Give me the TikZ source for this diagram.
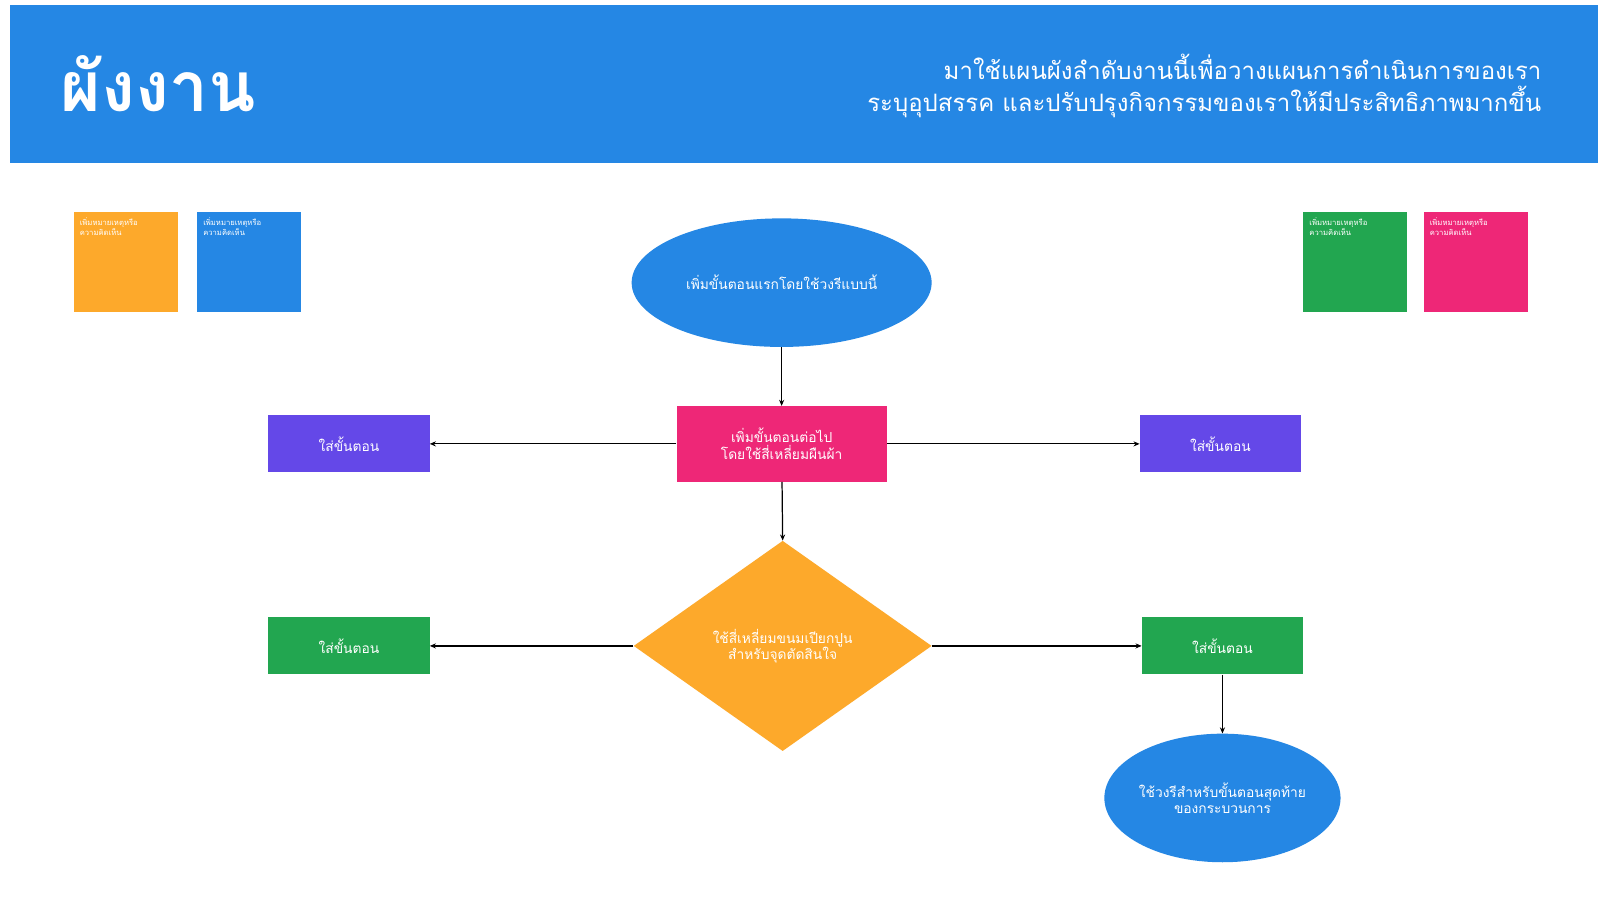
\documentclass[tikz,border=0pt]{standalone}
\usepackage{fontspec}
\setmainfont[Script=Thai]{Loma}
\usetikzlibrary{shapes.geometric,arrows.meta}
\definecolor{hblue}{HTML}{2587E4}
\definecolor{orng}{HTML}{FDA92B}
\definecolor{pnk}{HTML}{EE2777}
\definecolor{grn}{HTML}{22A650}
\definecolor{purp}{HTML}{6448E8}
\begin{document}
\begin{tikzpicture}[x=1pt,y=-1pt,
  box/.style={draw=none,text=white,font=\fontsize{13.5}{16}\selectfont,align=center,inner sep=0},
  note/.style={fill=#1,minimum width=102pt,minimum height=98pt,anchor=north west,inner sep=0},
  notetxt/.style={text=white,font=\fontsize{7.5}{10}\selectfont,align=left,anchor=north west,inner sep=0},
  arr/.style={-{Stealth[length=6pt,width=5pt]},line width=1.2pt}]
\useasboundingbox (0,0) rectangle (1568,882);
\fill[white] (0,0) rectangle (1568,882);
\node[fill=hblue,minimum width=1556pt,minimum height=155pt,anchor=north west,inner sep=0] (hdr) at (10,5) {};
\node[text=white,font=\fontsize{68}{70}\selectfont\bfseries,anchor=west] (title) at (56,82) {ผังงาน};
\node[text=white,font=\fontsize{23.5}{31}\selectfont,align=right,anchor=east] (sub) at (1514,84) {มาใช้แผนผังลำดับงานนี้เพื่อวางแผนการดำเนินการของเรา\\ระบุอุปสรรค และปรับปรุงกิจกรรมของเราให้มีประสิทธิภาพมากขึ้น};
\foreach \n/\x/\c in {n1/72/orng,n2/193/hblue,n3/1277/grn,n4/1395/pnk}{
  \node[note=\c] (\n) at (\x,208) {};
  \node[notetxt] (\n t) at (\x+6,213) {เพิ่มหมายเหตุหรือ\\ความคิดเห็น};
}
\node[box,ellipse,fill=hblue,minimum width=294pt,minimum height=126pt] (start) at (766,277) {เพิ่มขั้นตอนแรกโดยใช้วงรีแบบนี้};
\node[box,fill=pnk,minimum width=206pt,minimum height=74pt] (step) at (766,435) {เพิ่มขั้นตอนต่อไป\\โดยใช้สี่เหลี่ยมผืนผ้า};
\node[box,fill=purp,minimum width=158pt,minimum height=56pt] (pl) at (342,435) {ใส่ขั้นตอน};
\node[box,fill=purp,minimum width=158pt,minimum height=56pt] (pr) at (1196,435) {ใส่ขั้นตอน};
\node[box,diamond,fill=orng,minimum width=292pt,minimum height=206pt,aspect=1.42] (dec) at (767,633) {ใช้สี่เหลี่ยมขนมเปียกปูน\\สำหรับจุดตัดสินใจ};
\node[box,fill=grn,minimum width=158pt,minimum height=56pt] (gl) at (342,633) {ใส่ขั้นตอน};
\node[box,fill=grn,minimum width=158pt,minimum height=56pt] (gr) at (1198,633) {ใส่ขั้นตอน};
\node[box,ellipse,fill=hblue,minimum width=224pt,minimum height=126pt] (end) at (1198,782) {ใช้วงรีสำหรับขั้นตอนสุดท้าย\\ของกระบวนการ};
\draw[arr] (start) -- (step);
\draw[arr] (step) -- (pl);
\draw[arr] (step) -- (pr);
\draw[arr] (step) -- (dec.north);
\draw[arr] (dec.west) -- (gl);
\draw[arr] (dec.east) -- (gr);
\draw[arr] (gr) -- (end);
\end{tikzpicture}
\end{document}
